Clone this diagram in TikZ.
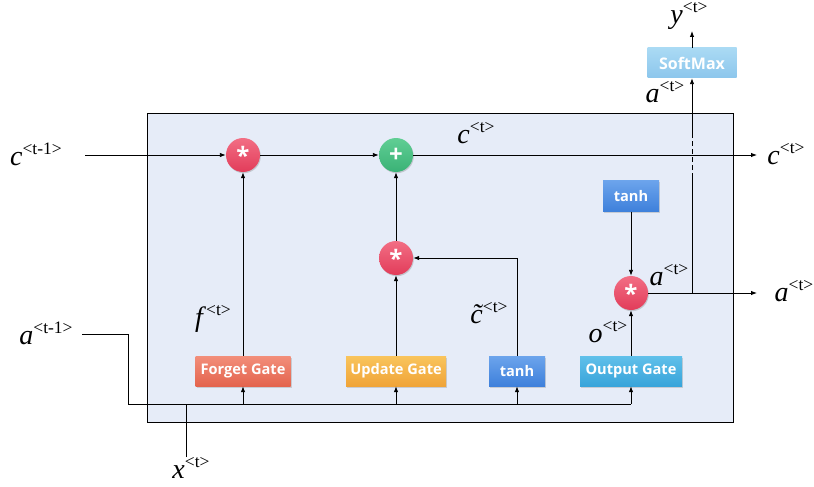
\documentclass[tikz,border=0pt]{standalone}
\usepackage{fontspec}
\setmainfont{Liberation Serif}
\newfontfamily\gatefont{Open Sans}
\usetikzlibrary{arrows.meta,shadows}
\definecolor{boxc}{HTML}{E6ECF8}
\definecolor{mulT}{RGB}{242,110,132}
\definecolor{mulB}{RGB}{226,60,90}
\definecolor{addT}{RGB}{96,206,148}
\definecolor{addB}{RGB}{58,178,118}
\definecolor{fgT}{RGB}{242,142,122}
\definecolor{fgB}{RGB}{228,100,78}
\definecolor{ugT}{RGB}{249,196,92}
\definecolor{ugB}{RGB}{240,164,56}
\definecolor{thT}{RGB}{108,164,236}
\definecolor{thB}{RGB}{62,128,219}
\definecolor{ogT}{RGB}{96,192,234}
\definecolor{ogB}{RGB}{56,164,218}
\definecolor{smT}{RGB}{170,218,244}
\definecolor{smB}{RGB}{140,198,236}
\newcommand\lbl[2]{\fontsize{28}{28}\selectfont\textit{#1}\raisebox{0.40em}{\fontsize{17.5}{17.5}\selectfont\upshape #2}}
\newcommand\ctil{\ooalign{\textit{c}\cr\hidewidth\textit{\char"02DC}\hidewidth\cr}}
\tikzset{
  arr/.style={-{Latex[length=6pt,width=4.5pt]}, line width=0.9pt},
  ln/.style={line width=0.9pt},
  opc/.style={circle, minimum size=34pt, inner sep=0pt, text=white, drop shadow={shadow xshift=0.8pt, shadow yshift=-1.2pt, opacity=0.35}, font=\gatefont\bfseries\fontsize{24}{24}\selectfont},
  mul/.style={opc, top color=mulT, bottom color=mulB},
  addc/.style={opc, top color=addT, bottom color=addB},
  gate/.style={rectangle, minimum height=30pt, inner sep=0pt, text=white, drop shadow={shadow xshift=1pt, shadow yshift=-1.5pt, opacity=0.3}, font=\gatefont\bfseries\fontsize{14.6}{14.6}\selectfont},
  lab/.style={inner sep=0pt}
}
\begin{document}
\begin{tikzpicture}[x=1pt,y=-1pt]
\useasboundingbox (0,0) rectangle (814,487);
\draw[line width=0.9pt, fill=boxc] (147,113) rectangle (733,422);
% operators
\node[mul] (m1) at (243,155) {\raisebox{-0.33em}{*}};
\node[addc] (pl) at (396,155) {+};
\node[mul] (m2) at (396,258) {\raisebox{-0.33em}{*}};
\node[mul] (m3) at (631,293) {\raisebox{-0.33em}{*}};
% gates
\node[gate, minimum width=95pt, top color=fgT, bottom color=fgB] (fg) at (243,371) {Forget Gate};
\node[gate, minimum width=100pt, top color=ugT, bottom color=ugB] (ug) at (396,371) {Update Gate};
\node[gate, minimum width=56pt, top color=thT, bottom color=thB] (t1) at (517,371) {tanh};
\node[gate, minimum width=102pt, top color=ogT, bottom color=ogB] (og) at (631,371) {Output Gate};
\node[gate, minimum width=56pt, minimum height=31pt, top color=thT, bottom color=thB] (t2) at (631,196) {tanh};
\node[rectangle, minimum height=30pt, inner sep=0pt, text=white, font=\gatefont\bfseries\fontsize{16}{16}\selectfont, minimum width=89pt, top color=smT, bottom color=smB] (sm) at (692,63) {SoftMax};
% free ends
\coordinate (cin) at (85,155);
\coordinate (cout) at (757,155);
\coordinate (aout) at (757,293);
\coordinate (ain) at (82,334);
\coordinate (xin) at (186,457);
\coordinate (yout) at (692,31);
\coordinate (b0) at (128,404);
\coordinate (bx) at (186,404);
\coordinate (bf) at (243,404);
\coordinate (bu) at (396,404);
\coordinate (bt) at (517,404);
\coordinate (bo) at (631,404);
\coordinate (j) at (692,293);
\coordinate (d1) at (692,178);
\coordinate (d2) at (692,137);
% connectors
\draw[arr] (cin) -- (m1);
\draw[arr] (m1) -- (pl);
\draw[arr] (pl) -- (cout);
\draw[arr] (fg) -- (m1);
\draw[arr] (ug) -- (m2);
\draw[arr] (m2) -- (pl);
\draw[arr] (t1.north) |- (m2.east);
\draw[arr] (t2) -- (m3);
\draw[arr] (og) -- (m3);
\draw[arr] (m3) -- (aout);
\draw[ln] (j) -- (d1);
\draw[ln, dash pattern=on 5pt off 3pt] (d1) -- (d2);
\draw[arr] (d2) -- (sm);
\draw[arr] (sm) -- (yout);
\draw[ln] (ain) -| (b0) -- (bo);
\draw[ln] (xin) -- (bx);
\draw[arr] (bf) -- (fg);
\draw[arr] (bu) -- (ug);
\draw[arr] (bt) -- (t1);
\draw[arr] (bo) -- (og);
% labels
\node[lab] (lc0) at (36,154) {\lbl{c}{<t-1>}};
\node[lab] (lc1) at (786,154) {\lbl{c}{<t>}};
\node[lab] (lc2) at (476,133) {\lbl{c}{<t>}};
\node[lab] (la1) at (794,291) {\lbl{a}{<t>}};
\node[lab] (la2) at (669,275) {\lbl{a}{<t>}};
\node[lab] (la3) at (665,92) {\lbl{a}{<t>}};
\node[lab] (ly) at (689,16) {\lbl{y}{<t>}};
\node[lab] (lf) at (213,319) {\lbl{f}{<t>}};
\node[lab] (lct) at (489,313) {\lbl{\ctil}{<t>}};
\node[lab] (lo) at (608,332) {\lbl{o}{<t>}};
\node[lab] (la0) at (46,333) {\lbl{a}{<t-1>}};
\node[lab] (lx) at (191,468) {\lbl{x}{<t>}};
\end{tikzpicture}
\end{document}
